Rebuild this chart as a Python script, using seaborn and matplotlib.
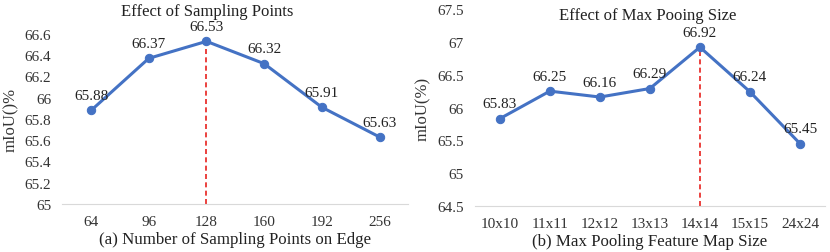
import numpy as np
import pandas as pd
import matplotlib.pyplot as plt
import seaborn as sns

# data
sample_points = ["64", "96", "128", "160", "192", "256"]
sample_miou = [65.88, 66.37, 66.53, 66.32, 65.91, 65.63]

pool_sizes = ["10x10", "11x11", "12x12", "13x13", "14x14", "15x15", "24x24"]
pool_miou = [65.83, 66.25, 66.16, 66.29, 66.92, 66.24, 65.45]

sns.set_style("white")
plt.rcParams['font.family'] = ['Liberation Serif', 'DejaVu Serif']

blue = "#4472C4"

fig = plt.figure(figsize=(8.3, 2.53), dpi=100)
ax1 = fig.add_axes([0.075, 0.19, 0.417, 0.672])
ax2 = fig.add_axes([0.572, 0.182, 0.422, 0.778])


def draw_panel(ax, cats, vals, ylim, yticks, ylab, xlab):
    df = pd.DataFrame({"pos": np.arange(len(cats)), "val": vals})
    sns.lineplot(data=df, x="pos", y="val", ax=ax, color=blue, linewidth=2.2,
                 marker="o", markersize=6, markeredgecolor=blue)
    # dashed marker at best value
    best = int(np.argmax(vals))
    ax.vlines(best, ylim[0], vals[best], colors="#E8211E", linestyles=(0, (3, 2)),
              linewidth=1.2, zorder=1)
    for i, v in enumerate(vals):
        ax.annotate(f"{v:.2f}", (i, v), xytext=(0, 6), textcoords="offset points",
                    ha="center", va="bottom", fontsize=11, color="#222222")
    ax.set_xlim(-0.5, len(cats) - 0.5)
    ax.set_ylim(*ylim)
    ax.set_yticks(yticks)
    ax.set_yticklabels([f"{t:g}" for t in yticks], fontsize=11, color="#333333")
    ax.set_xticks(np.arange(len(cats)))
    ax.set_xticklabels(cats, fontsize=11, color="#333333")
    ax.tick_params(axis="both", length=0, pad=8)
    for s in ["top", "right", "left"]:
        ax.spines[s].set_visible(False)
    ax.spines["bottom"].set_color("#D9D9D9")
    ax.set_ylabel(ylab, fontsize=12, color="#333333", labelpad=4)
    ax.set_xlabel(xlab, fontsize=12.2, color="#222222", labelpad=2)


draw_panel(ax1, sample_points, sample_miou, (65, 66.6),
           [65, 65.2, 65.4, 65.6, 65.8, 66, 66.2, 66.4, 66.6],
           "mIoU()%", "(a) Number of Sampling Points on Edge")
draw_panel(ax2, pool_sizes, pool_miou, (64.5, 67.5),
           [64.5, 65, 65.5, 66, 66.5, 67, 67.5],
           "mIoU(%)", "(b) Max Pooling Feature Map Size")

fig.text(207 / 830, 1 - 12 / 253, "Effect of Sampling Points", ha="center", va="center",
         fontsize=12, color="#222222")
fig.text(648 / 830, 1 - 16 / 253, "Effect of Max Pooing Size", ha="center", va="center",
         fontsize=12, color="#222222")

fig.savefig("out.png", dpi=100)
